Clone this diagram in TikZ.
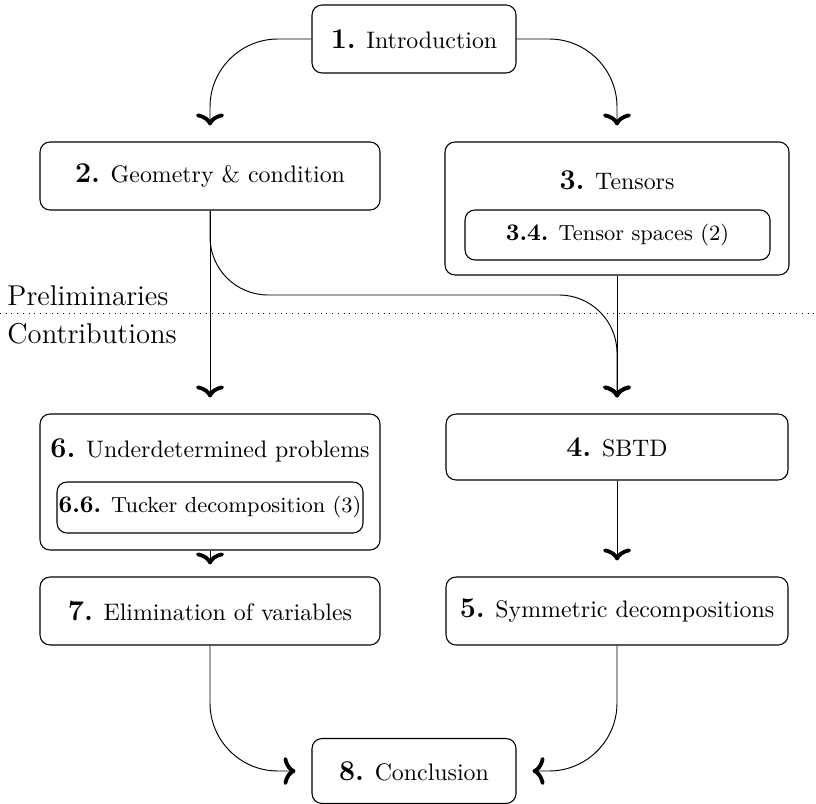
\documentclass[tikz,border=0pt]{standalone}
\usetikzlibrary{arrows.meta}
\newcommand{\secnum}[1]{{\large\bfseries #1}}
\newcommand{\subnum}[1]{{\normalsize\bfseries #1}}
\def\pxu{0.419pt}
\begin{document}
\begin{tikzpicture}[x=\pxu,y=-\pxu,
  box/.style={draw,rounded corners=10*\pxu,line width=0.45pt,inner sep=0pt},
  lbl/.style={inner sep=0pt},
  inner/.style={box,font=\fontsize{9.15}{11}\selectfont},
  side/.style={lbl,anchor=west,font=\large},
  arr/.style={-{Computer Modern Rightarrow[width=28*\pxu,length=12*\pxu,line width=1.6pt]},line width=0.4pt,shorten >=16*\pxu},
]
\useasboundingbox (0,0) rectangle (816,804);
% boxes
\node[box,minimum width=204*\pxu,minimum height=68*\pxu] (n1) at (414,39) {\secnum{1.} Introduction};
\node[box,minimum width=340*\pxu,minimum height=68*\pxu] (n2) at (210,176) {\secnum{2.} Geometry \& condition};
\node[box,minimum width=344*\pxu,minimum height=133*\pxu] (n3) at (617,208.5) {};
\node[lbl] (t3) at (617,180) {\secnum{3.} Tensors};
\node[inner,minimum width=305*\pxu,minimum height=50*\pxu] (n34) at (617.5,235) {\subnum{3.4.} Tensor spaces (2)};
\node[box,minimum width=340*\pxu,minimum height=136*\pxu] (n6) at (210,482) {};
\node[lbl] (t6) at (210,450) {\secnum{6.} Underdetermined problems};
\node[inner,minimum width=306*\pxu,minimum height=51*\pxu] (n66) at (210,507.5) {\subnum{6.6.} Tucker decomposition (3)};
\node[box,minimum width=342*\pxu,minimum height=66*\pxu] (n4) at (617,447) {\secnum{4.} SBTD};
\node[box,minimum width=340*\pxu,minimum height=68*\pxu] (n7) at (210,611) {\secnum{7.} Elimination of variables};
\node[box,minimum width=342*\pxu,minimum height=68*\pxu] (n5) at (617,611) {\secnum{5.} Symmetric decompositions};
\node[box,minimum width=204*\pxu,minimum height=65*\pxu] (n8) at (414,771) {\secnum{8.} Conclusion};
% separator
\coordinate (sepL) at (0,313);
\coordinate (sepR) at (816,313);
\draw[dotted,line width=0.4pt] (sepL) -- (sepR);
\node[side] (pre) at (7,296) {Preliminaries};
\node[side] (con) at (7,334) {Contributions};
\coordinate (mid) at (414,295);
% connectors
\draw[arr,rounded corners=68*\pxu] (n1.west) -| (n2.north);
\draw[arr,rounded corners=68*\pxu] (n1.east) -| (n3.north);
\draw[arr] (n2.south) -- (n6.north);
\draw[arr,rounded corners=58*\pxu] (n2.south) |- (mid) -| (n4.north);
\draw[arr] (n3.south) -- (n4.north);
\draw[arr,shorten >=12*\pxu] (n6.south) -- (n7.north);
\draw[arr] (n4.south) -- (n5.north);
\draw[arr,rounded corners=68*\pxu] (n7.south) |- (n8.west);
\draw[arr,rounded corners=68*\pxu] (n5.south) |- (n8.east);
\end{tikzpicture}
\end{document}
